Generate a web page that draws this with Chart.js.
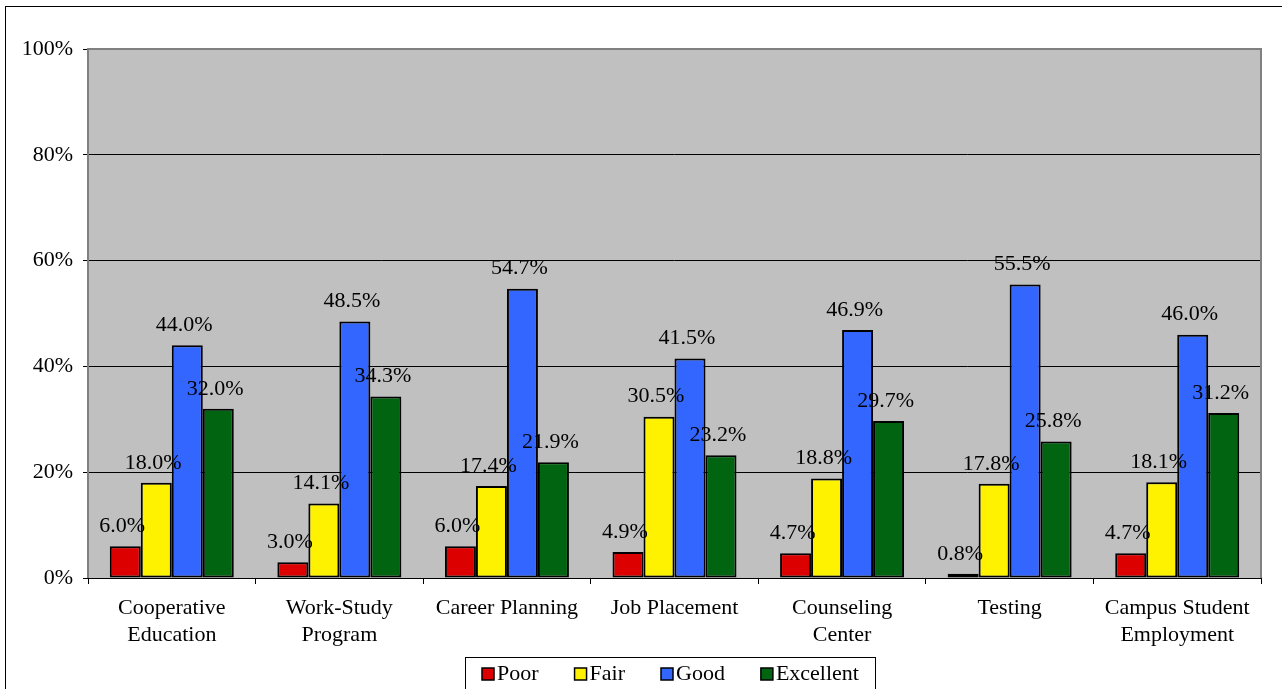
<!DOCTYPE html>
<html>
<head>
<meta charset="utf-8">
<script src="https://cdn.jsdelivr.net/npm/chart.js@4/dist/chart.umd.min.js"></script>
<style>
  html, body { margin: 0; padding: 0; background: #fff; }
  #wrap { width: 1282px; height: 689px; }
</style>
</head>
<body>
<div id="wrap"><canvas id="grafico" width="1282" height="689"></canvas></div>
<script>
// categorias y valores
var categorias = [
  ['Cooperative', 'Education'],
  ['Work-Study', 'Program'],
  'Career Planning',
  'Job Placement',
  ['Counseling', 'Center'],
  'Testing',
  ['Campus Student', 'Employment']
];
var poor      = [6.0, 3.0, 6.0, 4.9, 4.7, 0.8, 4.7];
var fair      = [18.0, 14.1, 17.4, 30.5, 18.8, 17.8, 18.1];
var good      = [44.0, 48.5, 54.7, 41.5, 46.9, 55.5, 46.0];
var excellent = [32.0, 34.3, 21.9, 23.2, 29.7, 25.8, 31.2];
var nombresSeries = ['Poor', 'Fair', 'Good', 'Excellent'];
var colores = ['#DD0000', '#FFF200', '#3366FF', '#006411'];

var fuente = '"Liberation Serif", "Times New Roman", serif';
var tam = 22;

var fondoYBorde = {
  id: 'fondoYBorde',
  beforeDraw: function (chart) {
    var ctx = chart.ctx, a = chart.chartArea;
    ctx.save();
    ctx.fillStyle = '#fff';
    ctx.fillRect(0, 0, chart.width, chart.height);
    ctx.strokeStyle = '#000';
    ctx.lineWidth = 1;
    ctx.strokeRect(5.5, 6.5, 1285, 700);
    ctx.fillStyle = '#C0C0C0';
    ctx.fillRect(a.left, a.top, a.right - a.left, a.bottom - a.top);
    ctx.restore();
  },
  afterDraw: function (chart) {
    var ctx = chart.ctx, a = chart.chartArea;
    ctx.save();
    // borde gris del area de trazado
    ctx.strokeStyle = '#808080';
    ctx.lineWidth = 2;
    ctx.beginPath();
    ctx.moveTo(a.left, a.bottom);
    ctx.lineTo(a.left, a.top);
    ctx.lineTo(a.right, a.top);
    ctx.lineTo(a.right, a.bottom);
    ctx.stroke();
    // leyenda
    ctx.fillStyle = '#fff';
    ctx.fillRect(465, 657, 410, 40);
    ctx.strokeStyle = '#000';
    ctx.lineWidth = 1;
    ctx.strokeRect(465.5, 657.5, 410, 40);
    ctx.font = tam + 'px ' + fuente;
    ctx.textBaseline = 'middle';
    var x = 482;
    chart.data.datasets.forEach(function (ds) {
      ctx.fillStyle = ds.backgroundColor;
      ctx.fillRect(x, 668, 12, 12);
      ctx.strokeStyle = '#000';
      ctx.lineWidth = 1.5;
      ctx.strokeRect(x, 668, 12, 12);
      ctx.fillStyle = '#000';
      ctx.fillText(ds.label, x + 15, 674);
      x += 15 + ctx.measureText(ds.label).width + 36;
    });
    ctx.restore();
  }
};

var etiquetasDatos = {
  id: 'etiquetasDatos',
  afterDatasetsDraw: function (chart) {
    var ctx = chart.ctx;
    ctx.save();
    ctx.font = tam + 'px ' + fuente;
    ctx.fillStyle = '#000';
    ctx.textAlign = 'center';
    ctx.textBaseline = 'bottom';
    chart.data.datasets.forEach(function (ds, i) {
      chart.getDatasetMeta(i).data.forEach(function (bar, j) {
        ctx.fillText(ds.data[j].toFixed(1) + '%', bar.x - 3, bar.y - 9);
      });
    });
    ctx.restore();
  }
};

var series = [poor, fair, good, excellent];
var ctx = document.getElementById('grafico').getContext('2d');
var miGrafico = new Chart(ctx, {
  type: 'bar',
  data: {
    labels: categorias,
    datasets: series.map(function (valores, i) {
      return {
        label: nombresSeries[i],
        data: valores,
        backgroundColor: colores[i],
        borderColor: '#000',
        borderWidth: 2,
        borderSkipped: false,
        categoryPercentage: 0.74,
        barPercentage: 1.0
      };
    })
  },
  options: {
    responsive: false,
    animation: false,
    layout: { padding: { left: 0, top: 49, right: 21, bottom: 32 } },
    plugins: {
      legend: { display: false },
      tooltip: { enabled: false }
    },
    scales: {
      x: {
        grid: {
          offset: true,
          drawOnChartArea: false,
          drawTicks: true,
          tickLength: 6,
          color: '#000'
        },
        border: { color: '#000', width: 1 },
        ticks: {
          color: '#000',
          padding: 11,
          maxRotation: 0,
          autoSkip: false,
          font: { family: fuente, size: tam, lineHeight: 1.22 }
        },
        afterFit: function (scale) { scale.height = 79; }
      },
      y: {
        min: 0,
        max: 100,
        grid: {
          color: '#000',
          lineWidth: 1,
          drawTicks: true,
          tickLength: 5
        },
        border: { display: false },
        ticks: {
          stepSize: 20,
          color: '#000',
          padding: 10,
          font: { family: fuente, size: tam },
          callback: function (v) { return v + '%'; }
        },
        afterFit: function (scale) { scale.width = 88; }
      }
    }
  },
  plugins: [fondoYBorde, etiquetasDatos]
});
</script>
</body>
</html>
